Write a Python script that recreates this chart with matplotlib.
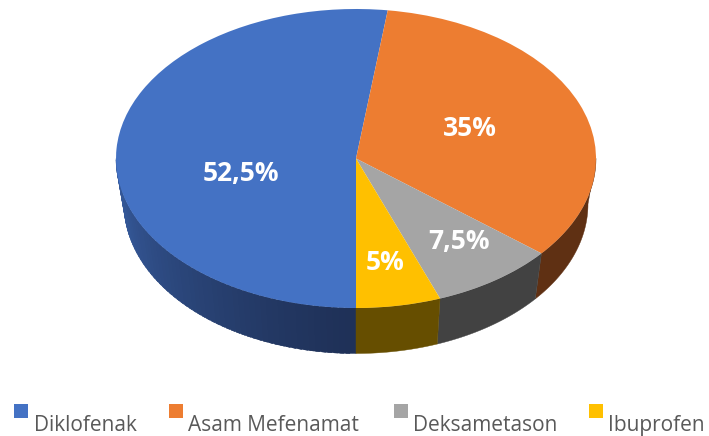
import numpy as np
import matplotlib.pyplot as plt
from matplotlib.colors import to_rgb
from matplotlib.patches import Rectangle

labels = ['Diklofenak', 'Asam Mefenamat', 'Deksametason', 'Ibuprofen']
values = [52.5, 35, 7.5, 5]
value_text = ['52,5%', '35%', '7,5%', '5%']
colors = ['#4472C4', '#ED7D31', '#A5A5A5', '#FFC000']
wall_dark = ['#1F3158', '#5F3013', '#424242', '#664E00']

W, H = 709, 436
cx, cy, rx, ry = 356, 158.5, 240, 149.5
depth = 45.5 / ry
shrink = 232 / rx  # bottom rim is a bit narrower, perspective


def warp(b):
    # the 3d view shifts the slice edges a little
    return np.interp(b, [180, 369, 495, 522, 540], [180, 367.6, 489.4, 519.5, 540])


def pos(x, y):
    return x / W, 1 - y / H


fig = plt.figure(figsize=(W / 100, H / 100), dpi=100)
ax = fig.add_axes([0, 0, 1, 1])

wedges, _ = ax.pie(values, colors=colors, startangle=270, counterclock=False, radius=1,
                   wedgeprops={'linewidth': 0})
ax.set_aspect('auto')
ax.set_xlim((0 - cx) / rx, (W - cx) / rx)
ax.set_ylim((cy - H) / ry, cy / ry)
ax.axis('off')

# bearing clockwise from top, first slice starts at the bottom
edges = 180 + np.cumsum([0] + values) * 3.6
for w, a, b in zip(wedges, edges[:-1], edges[1:]):
    w.set_theta1(90 - warp(b))
    w.set_theta2(90 - warp(a))
    w.set_zorder(3)


def wall(t0, t1, col, z=2):
    t = np.radians(np.linspace(t0, t1, max(int(t1 - t0) * 2, 2)))
    x = np.sin(t)
    y = np.cos(t)
    ax.fill(np.r_[x, x[::-1] * shrink], np.r_[y, y[::-1] - depth], color=col, lw=0.3, zorder=z)


# side wall, only the front half shows
for i in range(len(values)):
    a, b = warp(edges[i]), warp(edges[i + 1])
    if a >= 360:
        a, b = a - 360, b - 360
    lo, hi = max(a, 90), min(b, 270)
    dark = np.array(to_rgb(wall_dark[i]))
    if i == 0:
        # blue gets lighter towards the left, strips overlap so no seams show
        base = np.array(to_rgb(colors[i]))
        steps = np.arange(lo, hi, 1.5)
        for t0 in steps[::-1]:
            f = (t0 - 180) / 90
            wall(t0, min(t0 + 2.5, hi), dark + (base * 0.84 - dark) * f ** 1.2)
    else:
        wall(lo, hi, dark)

text_pos = [(241, 173), (470, 129), (459, 241), (385, 263)]
for s, (x, y) in zip(value_text, text_pos):
    fx, fy = pos(x, y)
    fig.text(fx, fy, s, color='white', fontsize=19, fontweight='bold', family='Open Sans',
             ha='center', va='center', zorder=5)

# legend by hand, squares sit above the text line
box_x = [14, 169, 394, 589]
text_x = [34, 188, 413, 608]
for s, c, bx, tx in zip(labels, colors, box_x, text_x):
    fx, fy = pos(bx, 418)
    fig.add_artist(Rectangle((fx, fy), 14 / W, 14 / H, transform=fig.transFigure, color=c, lw=0))
    fx, fy = pos(tx, 431)
    fig.text(fx, fy, s, color='#595959', fontsize=15, family='Open Sans', ha='left', va='baseline')

fig.savefig('out.png', dpi=100)
